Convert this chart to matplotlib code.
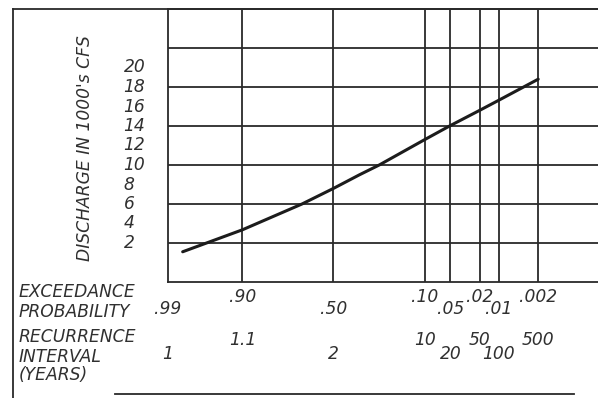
import matplotlib
matplotlib.use("Agg")
import matplotlib.pyplot as plt
from matplotlib.lines import Line2D
from matplotlib.transforms import blended_transform_factory
from statistics import NormalDist

# Flood frequency curve: discharge (1000's cfs) vs. exceedance probability
exceed_prob = [0.983, 0.90, 0.671, 0.50, 0.357, 0.26, 0.10, 0.05, 0.02, 0.01, 0.002]
discharge = [1.1, 3.35, 6.0, 7.6, 9.0, 10.0, 12.6, 14.05, 15.6, 16.65, 18.8]

# Probability axis ticks and matching recurrence intervals
tick_probs = [0.99, 0.90, 0.50, 0.10, 0.05, 0.02, 0.01, 0.002]
prob_labels = [".99", ".90", ".50", ".10", ".05", ".02", ".01", ".002"]
recur_labels = ["1", "1.1", "2", "10", "20", "50", "100", "500"]
grid_probs = [0.90, 0.50, 0.10, 0.05, 0.02, 0.01, 0.002]

# Discharge axis
y_labels = [2, 4, 6, 8, 10, 12, 14, 16, 18, 20]
y_grid = [2, 6, 10, 14, 18, 22]
y_min, y_max = -2, 26
p_left, p_right = 0.99, 0.0001

_nd = NormalDist()


def z(p):
    """Normal-probability-paper coordinate for an exceedance probability."""
    return _nd.inv_cdf(1.0 - p)


INK = "#2a2a2a"
TXT = "#303030"
FS = 12.3
W, H = 598, 398

fig = plt.figure(figsize=(W / 100, H / 100), dpi=100)
fig.patch.set_facecolor("white")

ax = fig.add_axes([168 / W, (H - 282) / H, (W - 168) / W, (282 - 9) / H])
ax.set_xlim(z(p_left), z(p_right))
ax.set_ylim(y_min, y_max)

# grid on the probability / discharge lines
for p in grid_probs:
    ax.axvline(z(p), color=INK, linewidth=1.3, zorder=1)
for v in y_grid:
    ax.axhline(v, color=INK, linewidth=1.3, zorder=1)

ax.tick_params(which="both", length=0)
ax.set_xticks([])
ax.set_yticks(y_labels)
ax.set_yticklabels([str(v) for v in y_labels], fontsize=FS, style="italic",
                   color=TXT, ha="left", va="center")
ax.tick_params(axis="y", pad=32)
for side in ("left", "top", "bottom"):
    ax.spines[side].set_color(INK)
    ax.spines[side].set_linewidth(1.3)
ax.spines["right"].set_visible(False)

ax.plot([z(p) for p in exceed_prob], discharge, color="#1c1c1c",
        linewidth=2.2, solid_capstyle="round", solid_joinstyle="round",
        zorder=3)

# staggered probability and recurrence labels beneath the plot
tr = blended_transform_factory(ax.transData, fig.transFigure)
for i, (p, pl, rl) in enumerate(zip(tick_probs, prob_labels, recur_labels)):
    upper = i % 2 == 1
    yp = 297 if upper else 309
    yr = 340 if upper else 354
    ax.text(z(p), 1 - yp / H, pl, transform=tr, ha="center", va="center",
            fontsize=FS, style="italic", color=TXT, clip_on=False)
    ax.text(z(p), 1 - yr / H, rl, transform=tr, ha="center", va="center",
            fontsize=FS, style="italic", color=TXT, clip_on=False)

# row captions
for label, ypx in [("EXCEEDANCE", 292), ("PROBABILITY", 312),
                   ("RECURRENCE", 337), ("INTERVAL", 357), ("(YEARS)", 375)]:
    fig.text(19 / W, 1 - ypx / H, label, ha="left", va="center",
             fontsize=FS, style="italic", color=TXT)

fig.text(85 / W, 1 - 148 / H, "DISCHARGE IN 1000's CFS", rotation=90,
         ha="center", va="center", fontsize=FS, style="italic", color=TXT)

# outer frame
frame = dict(color=INK, linewidth=1.3, transform=fig.transFigure)
fig.add_artist(Line2D([13 / W, 1.0], [1 - 9 / H, 1 - 9 / H], **frame))
fig.add_artist(Line2D([13 / W, 13 / W], [1 - 9 / H, 0.0], **frame))
fig.add_artist(Line2D([115 / W, 574 / W], [1 - 394 / H, 1 - 394 / H], **frame))

fig.savefig("out.png", dpi=100)
